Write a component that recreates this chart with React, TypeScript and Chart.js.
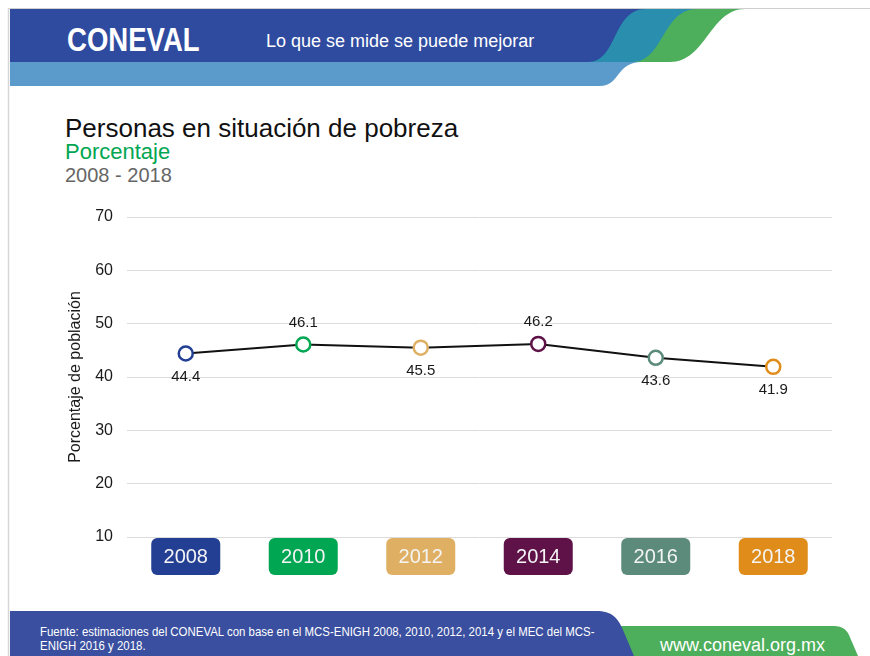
import React, { useEffect, useRef } from "react";
import { Chart, registerables } from "chart.js";

Chart.register(...registerables);

const years = ["2008", "2010", "2012", "2014", "2016", "2018"];
const poverty = [44.4, 46.1, 45.5, 46.2, 43.6, 41.9];
const yearColors = ["#233F94", "#00A651", "#DFB064", "#5E1248", "#5C8B7B", "#E08C1A"];
const labelPlacement = ["below", "above", "below", "above", "below", "below"];
const yMin = 10;
const yMax = 70;
const yStep = 10;

const FONT = "'Liberation Sans', Arial, sans-serif";

const yearBoxes = {
  id: "yearBoxes",
  beforeDraw(chart: any) {
    const { ctx, chartArea, scales } = chart;
    const x = scales.x;
    ctx.save();
    x.ticks.forEach((_t: any, i: number) => {
      const cx = x.getPixelForTick(i);
      const w = 69;
      const h = 37;
      const top = chartArea.bottom + 1;
      ctx.fillStyle = yearColors[i];
      ctx.beginPath();
      ctx.roundRect(cx - w / 2, top, w, h, 6);
      ctx.fill();
    });
    ctx.restore();
  },
};

const valueLabels = {
  id: "valueLabels",
  afterDatasetsDraw(chart: any) {
    const { ctx } = chart;
    const meta = chart.getDatasetMeta(0);
    ctx.save();
    ctx.font = `15px ${FONT}`;
    ctx.fillStyle = "#1a1a1a";
    ctx.textAlign = "center";
    ctx.textBaseline = "middle";
    meta.data.forEach((pt: any, i: number) => {
      const y = labelPlacement[i] === "above" ? pt.y - 22 : pt.y + 23;
      ctx.fillText(poverty[i].toFixed(1), pt.x, y);
    });
    ctx.restore();
  },
};

function PovertyChart() {
  const ref = useRef<HTMLCanvasElement | null>(null);
  useEffect(() => {
    if (!ref.current) return;
    const chart = new Chart(ref.current, {
      type: "line",
      data: {
        labels: years,
        datasets: [
          {
            data: poverty,
            borderColor: "#111",
            borderWidth: 2,
            pointRadius: 7,
            pointBorderWidth: 2.5,
            pointBackgroundColor: "#fff",
            pointBorderColor: yearColors,
            tension: 0,
          },
        ],
      },
      options: {
        responsive: false,
        animation: false,
        layout: { padding: { left: 61, right: 38, top: 27, bottom: 31 } },
        plugins: { legend: { display: false }, tooltip: { enabled: false } },
        scales: {
          x: {
            offset: true,
            grid: { display: false, drawTicks: false },
            border: { display: false },
            ticks: { color: "#F4F4F4", font: { size: 20, family: FONT }, padding: 8 },
            afterFit(scale: any) {
              scale.height = 32;
            },
          },
          y: {
            min: yMin,
            max: yMax,
            ticks: { stepSize: yStep, color: "#1a1a1a", font: { size: 16, family: FONT }, padding: 14 },
            grid: { color: "#DCDCDC", drawTicks: false },
            border: { display: false },
            title: {
              display: true,
              text: "Porcentaje de población",
              color: "#1a1a1a",
              font: { size: 16, family: FONT },
              padding: { top: 5, bottom: 9 },
            },
            afterFit(scale: any) {
              scale.width = 66;
            },
          },
        },
      },
      plugins: [yearBoxes, valueLabels],
    });
    return () => chart.destroy();
  }, []);
  return (
    <canvas
      ref={ref}
      width={870}
      height={410}
      style={{ position: "absolute", left: 0, top: 190, width: 870, height: 410 }}
    />
  );
}

export default function App() {
  return (
    <div
      style={{
        position: "absolute",
        left: 0,
        top: 0,
        width: 870,
        height: 656,
        overflow: "hidden",
        background: "#fff",
        fontFamily: FONT,
      }}
    >
      <svg width={870} height={656} style={{ position: "absolute", left: 0, top: 0 }}>
        <line x1={8} y1={8.5} x2={870} y2={8.5} stroke="#CFCFCF" strokeWidth={1} />
        <line x1={8.5} y1={8} x2={8.5} y2={656} stroke="#D6D6D6" strokeWidth={1.5} />
        {/* header */}
        <path d="M10,62 H642 C616,62 620,86 600,86 H10 Z" fill="#5B9BCB" />
        <path d="M10,9 H745 C710,9 706,62 670,62 H10 Z" fill="#4DAE5C" />
        <path d="M10,9 H697 C662,9 664,62 632,62 H10 Z" fill="#2A8FAE" />
        <path d="M10,9 H646 C612,9 618,62 588,62 H10 Z" fill="#2F4BA0" />
        {/* footer */}
        <path d="M600,626 H832 C846,626 848,632 852,642 L858,656 H600 Z" fill="#4DAE5C" />
        <path d="M10,611 H596 C612,611 618,618 623,630 L634,656 H10 Z" fill="#3A4FA0" />
      </svg>
      <div
        style={{
          position: "absolute",
          left: 67,
          top: 22,
          color: "#fff",
          fontWeight: 700,
          fontSize: 34,
          lineHeight: "34px",
          transform: "scaleX(0.81)",
          transformOrigin: "left top",
          whiteSpace: "nowrap",
        }}
      >
        CONEVAL
      </div>
      <div
        style={{
          position: "absolute",
          left: 266,
          top: 32,
          color: "#fff",
          fontSize: 18,
          lineHeight: "18px",
          whiteSpace: "nowrap",
        }}
      >
        Lo que se mide se puede mejorar
      </div>
      <div style={{ position: "absolute", left: 65, top: 115, fontSize: 26, lineHeight: "26px", color: "#111", whiteSpace: "nowrap" }}>
        Personas en situación de pobreza
      </div>
      <div style={{ position: "absolute", left: 65, top: 141, fontSize: 22, lineHeight: "22px", color: "#00A651", whiteSpace: "nowrap" }}>
        Porcentaje
      </div>
      <div style={{ position: "absolute", left: 65, top: 165, fontSize: 20, lineHeight: "20px", color: "#666", whiteSpace: "nowrap" }}>
        2008 - 2018
      </div>
      <PovertyChart />
      <div
        style={{
          position: "absolute",
          left: 40,
          top: 625,
          color: "#fff",
          fontSize: 13,
          lineHeight: "14px",
          whiteSpace: "nowrap",
          transform: "scaleX(0.88)",
          transformOrigin: "left top",
        }}
      >
        Fuente: estimaciones del CONEVAL con base en el MCS-ENIGH 2008, 2010, 2012, 2014 y el MEC del MCS-
        <br />
        ENIGH 2016 y 2018.
      </div>
      <div
        style={{
          position: "absolute",
          left: 660,
          top: 636,
          color: "#fff",
          fontSize: 18,
          lineHeight: "18px",
          whiteSpace: "nowrap",
        }}
      >
        www.coneval.org.mx
      </div>
    </div>
  );
}
